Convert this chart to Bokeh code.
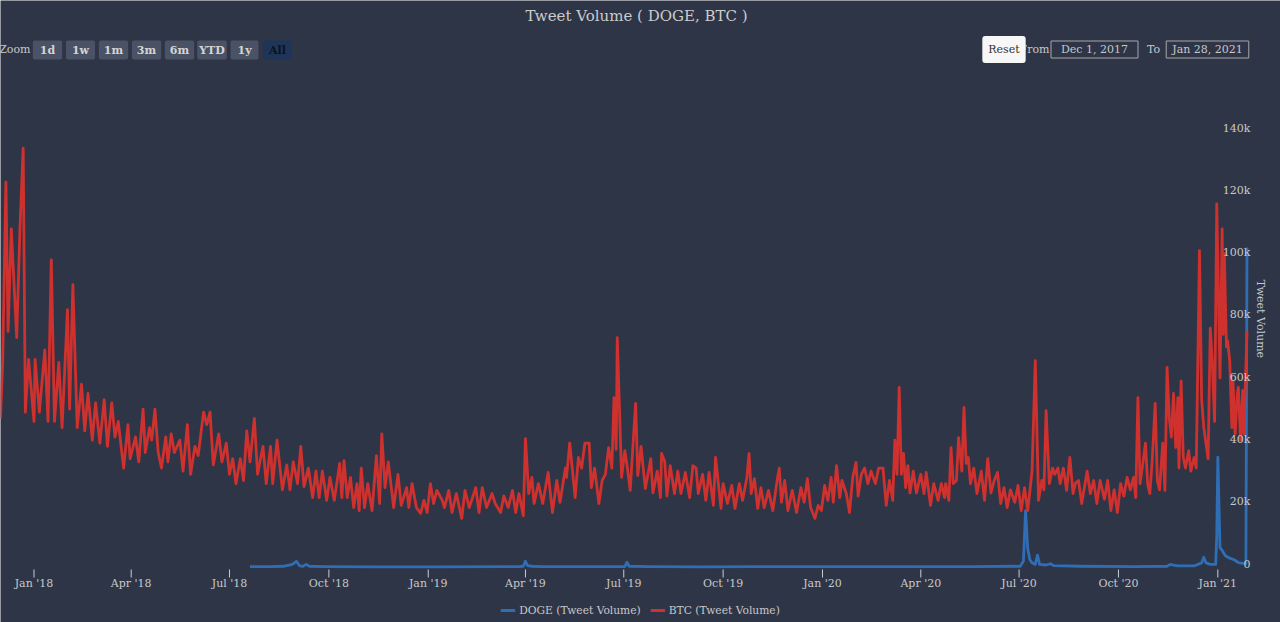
import pandas as pd
from bokeh.plotting import figure
from bokeh.models import Range1d, Label, Legend, LegendItem
from bokeh.embed import file_html
from bokeh.resources import INLINE

# ---------------- data ----------------
START_DATE = "2017-12-01"
END_DATE = "2021-01-28"

# BTC tweet volume: day offset from START_DATE, value in thousands
btc_day = [0, 2, 5, 7, 10, 15, 18, 21, 23, 26, 31, 32, 36, 41, 44, 47, 50, 54, 57, 62,
           64, 67, 71, 75, 78, 81, 85, 88, 92, 96, 99, 103, 106, 109, 114, 118, 120, 125, 128, 132,
           134, 138, 140, 143, 146, 149, 153, 155, 158, 161, 166, 169, 173, 176, 180, 183, 188, 191, 194, 197,
           202, 205, 209, 212, 215, 218, 222, 225, 228, 231, 235, 238, 243, 246, 250, 252, 256, 261, 265, 268,
           271, 275, 278, 281, 285,
           289, 292, 295, 298, 302, 305, 309, 314, 316, 318, 321, 324, 327, 330, 332, 334, 337, 340, 344, 348,
           351, 353, 356, 359, 364, 368, 371, 376, 378, 381, 385, 389, 392, 395, 398, 401, 404, 409, 411, 415,
           418, 422, 427, 430, 434, 440, 443, 446, 450, 455, 458, 463, 466, 470, 474, 477, 480, 484, 486, 489,
           492, 494, 498, 502, 507, 511, 515, 518, 523, 524, 527, 532, 535, 538, 541, 545, 547, 550, 554, 557,
           560, 563, 566, 568, 570, 571, 575, 578,
           580, 583, 586, 588, 590, 593, 597, 602, 604, 608, 611, 612, 615, 617, 620, 624, 627, 630, 634, 638,
           641, 644, 646, 650, 653, 656, 660, 662, 665, 667, 669, 673, 677, 680, 684, 687, 691, 693, 695, 698,
           701, 704, 707, 711, 715, 719, 721, 723, 726, 729, 733, 737, 741, 744, 747, 750, 754, 757, 760, 763,
           766, 769, 771, 774, 777, 779, 783, 786, 789, 792, 794, 797, 800, 803, 806, 810, 813, 817, 820, 823,
           826, 828, 830, 832, 834, 836, 838, 840, 842, 845, 848, 852, 855, 857, 861, 864,
           868, 871, 874, 875, 878, 880, 882, 885, 887, 890, 892, 894, 896, 898, 901, 904, 908, 911, 914, 917,
           920, 923, 926, 929, 932, 935, 939, 942, 945, 948, 951, 955, 958, 961, 964, 966, 968, 971, 974, 976,
           979, 981, 984, 987, 990, 993, 995, 998, 1001, 1006, 1009, 1012, 1015, 1018, 1022, 1025, 1028, 1031, 1034, 1037,
           1040, 1043, 1046, 1049, 1051, 1053, 1055, 1057, 1060, 1062, 1064, 1066, 1069, 1071, 1073, 1076, 1078, 1080, 1082, 1084,
           1086, 1088, 1090, 1091, 1093, 1095, 1097, 1100, 1102, 1105, 1107, 1110, 1112, 1114, 1118, 1120, 1122, 1124, 1126, 1129,
           1131, 1132, 1133, 1135, 1136, 1138, 1140, 1141, 1143, 1145, 1146, 1148, 1150, 1151, 1154]
btc_k = [48, 66, 124, 76, 109, 74, 109, 135, 50, 67, 47, 67, 50, 70, 47, 99, 47, 66, 45, 83,
         51, 91, 45, 59, 44, 56, 41, 53, 40, 54, 39, 53, 42, 47, 32, 46, 35, 42, 34, 51,
         37, 45, 41, 51, 37, 32, 42, 34, 43, 37, 41, 31, 46, 30, 39, 36, 50, 46, 50, 33,
         43, 34, 40, 30, 35, 27, 35, 28, 44, 34, 48, 30, 39, 27, 39, 27, 41, 25, 33, 25,
         34, 27, 39, 26, 32,
         22.5, 31, 22.5, 31, 21.6, 29, 21.6, 33.5, 22.5, 34.4, 22.5, 29, 19.3, 27, 18.3, 32, 19.3, 27, 18.3, 36,
         20.6, 43, 25.7, 34, 19.3, 30, 20, 25.7, 19.3, 27, 19.3, 17.4, 21.6, 17.7, 27, 20.6, 24.8, 21.6, 19.3, 24.8,
         17.7, 23.8, 15.8, 24.8, 19.3, 25.7, 17.7, 25.7, 19.3, 23.8, 20.6, 17.7, 23, 19.3, 24.8, 17.7, 23.8, 16.7, 41.5, 23.8,
         29, 20.6, 27, 20.6, 30.6, 17.7, 28, 21, 32, 29, 40, 22.5, 35.4, 32, 40, 40, 25.7, 32, 20.6, 28,
         30, 38.6, 32, 54.7, 38, 74, 29, 37.6,
         33, 24.8, 42, 52.8, 29.6, 39, 25.4, 35, 24, 31, 22.5, 36.7, 34, 23, 32.8, 23.8, 31, 23.8, 30.6, 22.5,
         32.8, 32, 23.8, 30, 21.6, 30.6, 20, 35.4, 25.7, 19, 27, 20.6, 26.4, 19, 27, 21.6, 29, 36.7, 23.8, 28.6,
         19, 25.7, 19.3, 24.8, 18.3, 28, 32, 21, 28, 18.3, 24.8, 17.7, 25.7, 21, 28.6, 19.3, 15.8, 20, 18.3, 26.4,
         21.6, 29, 21, 32.8, 22.5, 28, 23.8, 17.7, 29, 33.8, 23, 30, 32, 27, 31, 27, 32, 32, 20, 28,
         21.6, 41, 30, 58, 30, 36.7, 25.7, 32.8, 24, 31, 24, 30, 23.8, 30.6, 20, 27,
         21.6, 27, 22.5, 27, 21.6, 38.6, 27, 28, 41.8, 31, 51.5, 33.5, 35.4, 27, 32, 23.8, 31, 21.6, 35, 24,
         28, 30.6, 20.6, 25.7, 19.3, 25, 21, 26.4, 18.3, 25.7, 18.3, 31, 66.6, 21.6, 28, 25, 50.5, 27, 32, 30,
         32, 27, 32, 24.8, 35.4, 23.8, 27, 28, 20.6, 31, 23.8, 28, 20.6, 28, 22, 28, 18.3, 25, 17.7, 27,
         23, 29, 25, 29, 22.5, 54.7, 27, 32, 40, 27, 23.8, 33, 52.8, 28, 25, 40, 24.8, 64.4, 48.3, 42,
         56, 38.6, 54.7, 32, 60, 35.4, 32, 37.6, 31, 35.4, 32, 102, 54, 45, 35, 77, 65, 47, 117, 61,
         109, 75, 101, 71, 73, 66.6, 45, 60, 43, 56, 58, 41, 57, 43, 76]

# DOGE tweet volume: day offset from START_DATE, value in thousands
doge_day = [231, 250, 262, 270, 274, 277, 280, 283, 286, 300, 350, 400, 480, 484, 486, 488, 492, 500, 540, 578,
            580, 582, 600, 650, 700, 800, 900, 944, 947, 949, 951, 953, 955, 958, 960, 962, 968, 972, 975, 1000,
            1050, 1080, 1083, 1086, 1090, 1105, 1112, 1114, 1116, 1120, 1125, 1126, 1127, 1129, 1131, 1134, 1138, 1142, 1146, 1150,
            1153, 1154]
doge_k = [0.3, 0.3, 0.4, 1.0, 2.0, 0.5, 0.4, 1.0, 0.4, 0.3, 0.2, 0.2, 0.3, 0.4, 2.0, 0.6, 0.4, 0.3, 0.3, 0.3,
          1.7, 0.4, 0.3, 0.2, 0.3, 0.3, 0.3, 0.4, 2.0, 18.3, 6.0, 2.5, 1.5, 1.0, 4.0, 1.0, 0.8, 1.2, 0.6, 0.4,
          0.3, 0.4, 1.0, 0.8, 0.5, 0.5, 1.5, 3.3, 1.5, 1.0, 1.0, 10, 35.5, 6.4, 5.5, 3.8, 3.0, 2.5, 1.6, 1.3,
          1.3, 103]

series_names = ["DOGE (Tweet Volume)", "BTC (Tweet Volume)"]
x_tick_dates = ["2018-01-01", "2018-04-01", "2018-07-01", "2018-10-01",
                "2019-01-01", "2019-04-01", "2019-07-01", "2019-10-01",
                "2020-01-01", "2020-04-01", "2020-07-01", "2020-10-01", "2021-01-01"]
y_ticks = [0, 20000, 40000, 60000, 80000, 100000, 120000, 140000]
y_tick_labels = ["0", "20k", "40k", "60k", "80k", "100k", "120k", "140k"]
zoom_buttons = ["1d", "1w", "1m", "3m", "6m", "YTD", "1y", "All"]
title_text = "Tweet Volume ( DOGE, BTC )"
y_axis_title = "Tweet Volume"
from_text = "Dec 1, 2017"
to_text = "Jan 28, 2021"

# ---------------- style / layout ----------------
BG = "#2e3547"
RED = "#cf312e"
BLUE = "#2f6eb5"
TXT = "#c8c8c8"
FONT = "DejaVu Serif"
W, H = 1280, 622
ZERO_ROW = 567              # pixel row of value 0
PX_PER_UNIT = 435 / 140000  # vertical scale
DATA_RIGHT = 1246.5         # pixel column of the last date
DAY_MS = 86400000.0

start = pd.Timestamp(START_DATE)
end = pd.Timestamp(END_DATE)
start_ms = start.timestamp() * 1000.0
n_days = (end - start).days
px_per_day = DATA_RIGHT / n_days

btc_x = start + pd.to_timedelta(btc_day, unit="D")
doge_x = start + pd.to_timedelta(doge_day, unit="D")
btc_y = [v * 1000 for v in btc_k]
doge_y = [v * 1000 for v in doge_k]


def ms(ts):
    return pd.Timestamp(ts).timestamp() * 1000.0


def dx(px):
    return start_ms + px / px_per_day * DAY_MS


def dy(py):
    return (ZERO_ROW - py) / PX_PER_UNIT


p = figure(width=W, height=H, x_axis_type="datetime",
           x_axis_location=None, y_axis_location=None,
           output_backend="svg", toolbar_location=None,
           x_range=Range1d(dx(0), dx(W)), y_range=Range1d(dy(H), dy(0)),
           min_border_left=0, min_border_right=0, min_border_top=0, min_border_bottom=0,
           background_fill_color=BG, border_fill_color=BG)
p.outline_line_color = None
p.grid.visible = False

# x axis: tick marks and labels on the library's datetime scale
tick_ms = [ms(d) for d in x_tick_dates]
p.segment(x0=tick_ms, y0=[dy(569)] * len(tick_ms), x1=tick_ms, y1=[dy(577)] * len(tick_ms),
          line_color="#c8ccd4", line_width=1)
for d, t in zip(x_tick_dates, tick_ms):
    p.add_layout(Label(x=t, y=dy(582.5), text=pd.Timestamp(d).strftime("%b '%y"),
                       text_align="center", text_baseline="middle",
                       text_font=FONT, text_font_size="11px", text_color=TXT))

doge_r = p.line(doge_x, doge_y, line_color=BLUE, line_width=2.8, line_join="round")
btc_r = p.line(btc_x, btc_y, line_color=RED, line_width=2.8, line_join="round")

legend = Legend(items=[LegendItem(label=series_names[0], renderers=[doge_r]),
                       LegendItem(label=series_names[1], renderers=[btc_r])],
                location="bottom_center", orientation="horizontal",
                padding=0, margin=5, spacing=9, label_standoff=4,
                glyph_width=15, glyph_height=14, label_height=14,
                label_text_font=FONT, label_text_font_size="10.7px", label_text_color=TXT,
                background_fill_alpha=0, border_line_color=None)
p.add_layout(legend)


def lab(text, px, py, **kw):
    opts = dict(text_font=FONT, text_font_size="11px", text_color=TXT,
                text_align="center", text_baseline="middle")
    opts.update(kw)
    p.add_layout(Label(x=dx(px), y=dy(py), text=text, **opts))


# y tick labels drawn inside the plot, at the right edge
for v, t in zip(y_ticks, y_tick_labels):
    p.add_layout(Label(x=dx(1250), y=v, text=t, y_offset=4,
                       text_align="right", text_baseline="middle",
                       text_font=FONT, text_font_size="11px", text_color=TXT))
p.add_layout(Label(x=dx(1260), y=80000, text=y_axis_title, angle=-1.5708,
                   text_align="center", text_baseline="middle",
                   text_font=FONT, text_font_size="11px", text_color=TXT))

# header: title, range selector, date inputs
lab(title_text, 636, 15, text_font_size="15px", text_color="#cccccc")
lab("Zoom", 30, 49, text_align="right")
btn_centers = [47, 80, 113, 146, 179, 211.5, 244, 277]
btn_pad = [7, 6, 5, 5, 5, 2, 7, 6]
for t, cx, pd_ in zip(zoom_buttons, btn_centers, btn_pad):
    sel = (t == "All")
    lab(t, cx, 49.5, text_font_style="bold",
        text_color="#0c1220" if sel else "#d4d4d4",
        background_fill_color="#1f3557" if sel else "#4a5265",
        padding={"left": pd_, "right": pd_, "top": 3, "bottom": 3}, border_radius=2)

lab("From", 1049, 49, text_align="right")
lab("Reset", 1003.5, 49, text_color="#333333", background_fill_color="#f7f7f7",
    padding={"left": 6, "right": 6, "top": 7, "bottom": 7}, border_radius=3)
lab(from_text, 1094, 49, border_line_color="#a8a8a8", border_line_width=1,
    padding={"left": 10, "right": 10, "top": 2, "bottom": 2})
lab("To", 1153, 49)
lab(to_text, 1207, 49, border_line_color="#a8a8a8", border_line_width=1,
    padding={"left": 6, "right": 6, "top": 2, "bottom": 2})

open("out.html", "w").write(file_html(p, INLINE))
